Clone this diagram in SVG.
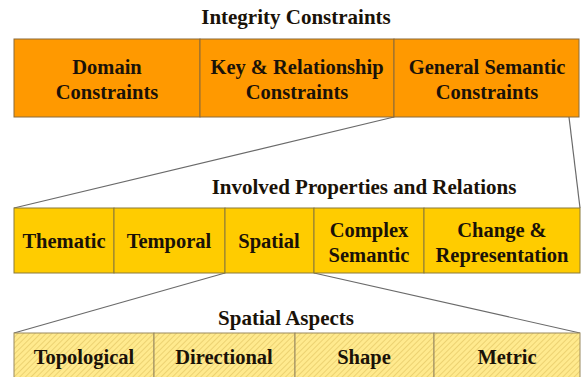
<svg xmlns="http://www.w3.org/2000/svg" width="583" height="377" viewBox="0 0 583 377">
<defs>
<pattern id="hatch" width="4" height="4" patternUnits="userSpaceOnUse" patternTransform="rotate(45)">
<rect width="4" height="4" fill="#FFEA8E"/>
<line x1="0" y1="0" x2="0" y2="4" stroke="#E6CB68" stroke-width="1.5"/>
</pattern>
</defs>
<style>
text{font-family:"Liberation Serif",serif;font-weight:bold;fill:#1a1208;text-anchor:middle}
.t{font-size:21px}
.n{font-size:20.5px}
.l1{fill:#FF9900;stroke:#8a6a3a;stroke-width:1}
.l2{fill:#FFCC00;stroke:#8a7a3a;stroke-width:1}
.l3{fill:url(#hatch);stroke:#9a8a60;stroke-width:1}
.c{stroke:#6a6a6a;stroke-width:1.2;fill:none}
</style>
<text class="t" x="296" y="24">Integrity Constraints</text>
<text class="t" x="364" y="194">Involved Properties and Relations</text>
<text class="t" x="286" y="325">Spatial Aspects</text>
<g id="connectors">
<line class="c" x1="394" y1="117" x2="14" y2="208"/>
<line class="c" x1="569" y1="117" x2="580" y2="208"/>
<line class="c" x1="225" y1="273" x2="14" y2="333"/>
<line class="c" x1="314" y1="273" x2="580" y2="333"/>
</g>
<g id="domain"><rect class="l1" x="14" y="39" width="186" height="78"/><text class="n" x="107" y="74">Domain</text><text class="n" x="107" y="99">Constraints</text></g>
<g id="key"><rect class="l1" x="200" y="39" width="194" height="78"/><text class="n" x="297" y="74">Key &amp; Relationship</text><text class="n" x="297" y="99">Constraints</text></g>
<g id="general"><rect class="l1" x="394" y="39" width="185" height="78"/><text class="n" x="487" y="74">General Semantic</text><text class="n" x="487" y="99">Constraints</text></g>
<g id="thematic"><rect class="l2" x="14" y="208" width="100" height="65"/><text class="n" x="64" y="248">Thematic</text></g>
<g id="temporal"><rect class="l2" x="114" y="208" width="111" height="65"/><text class="n" x="169" y="248">Temporal</text></g>
<g id="spatial"><rect class="l2" x="225" y="208" width="89" height="65"/><text class="n" x="269" y="248">Spatial</text></g>
<g id="complex"><rect class="l2" x="314" y="208" width="110" height="65"/><text class="n" x="369" y="237">Complex</text><text class="n" x="369" y="262">Semantic</text></g>
<g id="change"><rect class="l2" x="424" y="208" width="156" height="65"/><text class="n" x="502" y="237">Change &amp;</text><text class="n" x="502" y="262">Representation</text></g>
<g id="topological"><rect class="l3" x="14" y="333" width="140" height="60"/><text class="n" x="84" y="364">Topological</text></g>
<g id="directional"><rect class="l3" x="154" y="333" width="141" height="60"/><text class="n" x="224" y="364">Directional</text></g>
<g id="shape"><rect class="l3" x="295" y="333" width="139" height="60"/><text class="n" x="364" y="364">Shape</text></g>
<g id="metric"><rect class="l3" x="434" y="333" width="146" height="60"/><text class="n" x="507" y="364">Metric</text></g>
</svg>
